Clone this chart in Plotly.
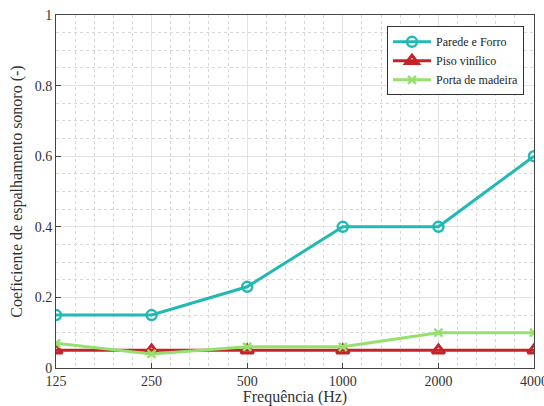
import plotly.graph_objects as go

freqs = [125, 250, 500, 1000, 2000, 4000]
tick_labels = ["125", "250", "500", "1000", "2000", "4000"]
parede = [0.15, 0.15, 0.23, 0.40, 0.40, 0.60]
piso = [0.05, 0.05, 0.05, 0.05, 0.05, 0.05]
porta = [0.07, 0.04, 0.06, 0.06, 0.10, 0.10]

# minor grid: 5 log-spaced subdivisions per octave (MATLAB style)
minor_vals = [125 * 2 ** (k / 5) for k in range(1, 25) if k % 5 != 0]

font = "Liberation Serif, DejaVu Serif, serif"
fig = go.Figure()
fig.add_trace(go.Scatter(x=freqs, y=parede, name="Parede e Forro", mode="lines+markers",
                         line=dict(color="#22B8B4", width=3),
                         marker=dict(symbol="circle-open", size=10, line=dict(width=2.5), color="#22B8B4")))
fig.add_trace(go.Scatter(x=freqs, y=piso, name="Piso vinílico", mode="lines+markers",
                         line=dict(color="#C42328", width=3),
                         marker=dict(symbol="triangle-up-open", size=11, line=dict(width=3), color="#C42328")))
fig.add_trace(go.Scatter(x=freqs, y=porta, name="Porta de madeira", mode="lines+markers",
                         line=dict(color="#96E070", width=3),
                         marker=dict(symbol="x-thin-open", size=8, line=dict(width=2.5), color="#96E070")))

fig.update_layout(
    width=544, height=406,
    margin=dict(l=56, r=10, t=15, b=38, autoexpand=False),
    paper_bgcolor="white", plot_bgcolor="white",
    font=dict(family=font, size=14, color="#333333"),
    showlegend=True,
    legend=dict(x=0.979, y=0.968, xanchor="right", yanchor="top",
                bgcolor="white", bordercolor="#333333", borderwidth=1,
                font=dict(family=font, size=12, color="#222222"),
                tracegroupgap=0, itemwidth=38),
    xaxis=dict(type="log", range=[2.09691, 3.60206],
               tickvals=freqs, ticktext=tick_labels, ticklabeloverflow="allow",
               showline=True, mirror=True, linecolor="#444444", linewidth=1,
               ticks="inside", ticklen=5, tickcolor="#444444",
               showgrid=True, gridcolor="#e3e3e3", gridwidth=1,
               minor=dict(tickvals=minor_vals, showgrid=True, gridcolor="#d8d8d8", griddash="dot", gridwidth=1,
                          ticks=""),
               zeroline=False, automargin=False,
               title=dict(text="Frequência (Hz)", font=dict(family=font, size=16, color="#333333"), standoff=4),
               tickfont=dict(family=font, size=14, color="#333333")),
    yaxis=dict(range=[0, 1], tickvals=[0, 0.2, 0.4, 0.6, 0.8, 1],
               ticktext=["0", "0.2", "0.4", "0.6", "0.8", "1"],
               showline=True, mirror=True, linecolor="#444444", linewidth=1,
               ticks="inside", ticklen=5, tickcolor="#444444",
               showgrid=True, gridcolor="#e3e3e3", gridwidth=1,
               minor=dict(dtick=0.05, showgrid=True, gridcolor="#d8d8d8", griddash="dot", gridwidth=1, ticks=""),
               zeroline=False, automargin=False,
               title=dict(text="Coeficiente de espalhamento sonoro (-)", font=dict(family=font, size=16, color="#333333"), standoff=8),
               tickfont=dict(family=font, size=14, color="#333333")),
)
fig.write_html("out.html", config={"displayModeBar": False},
               post_script="document.body.style.margin='0';")
